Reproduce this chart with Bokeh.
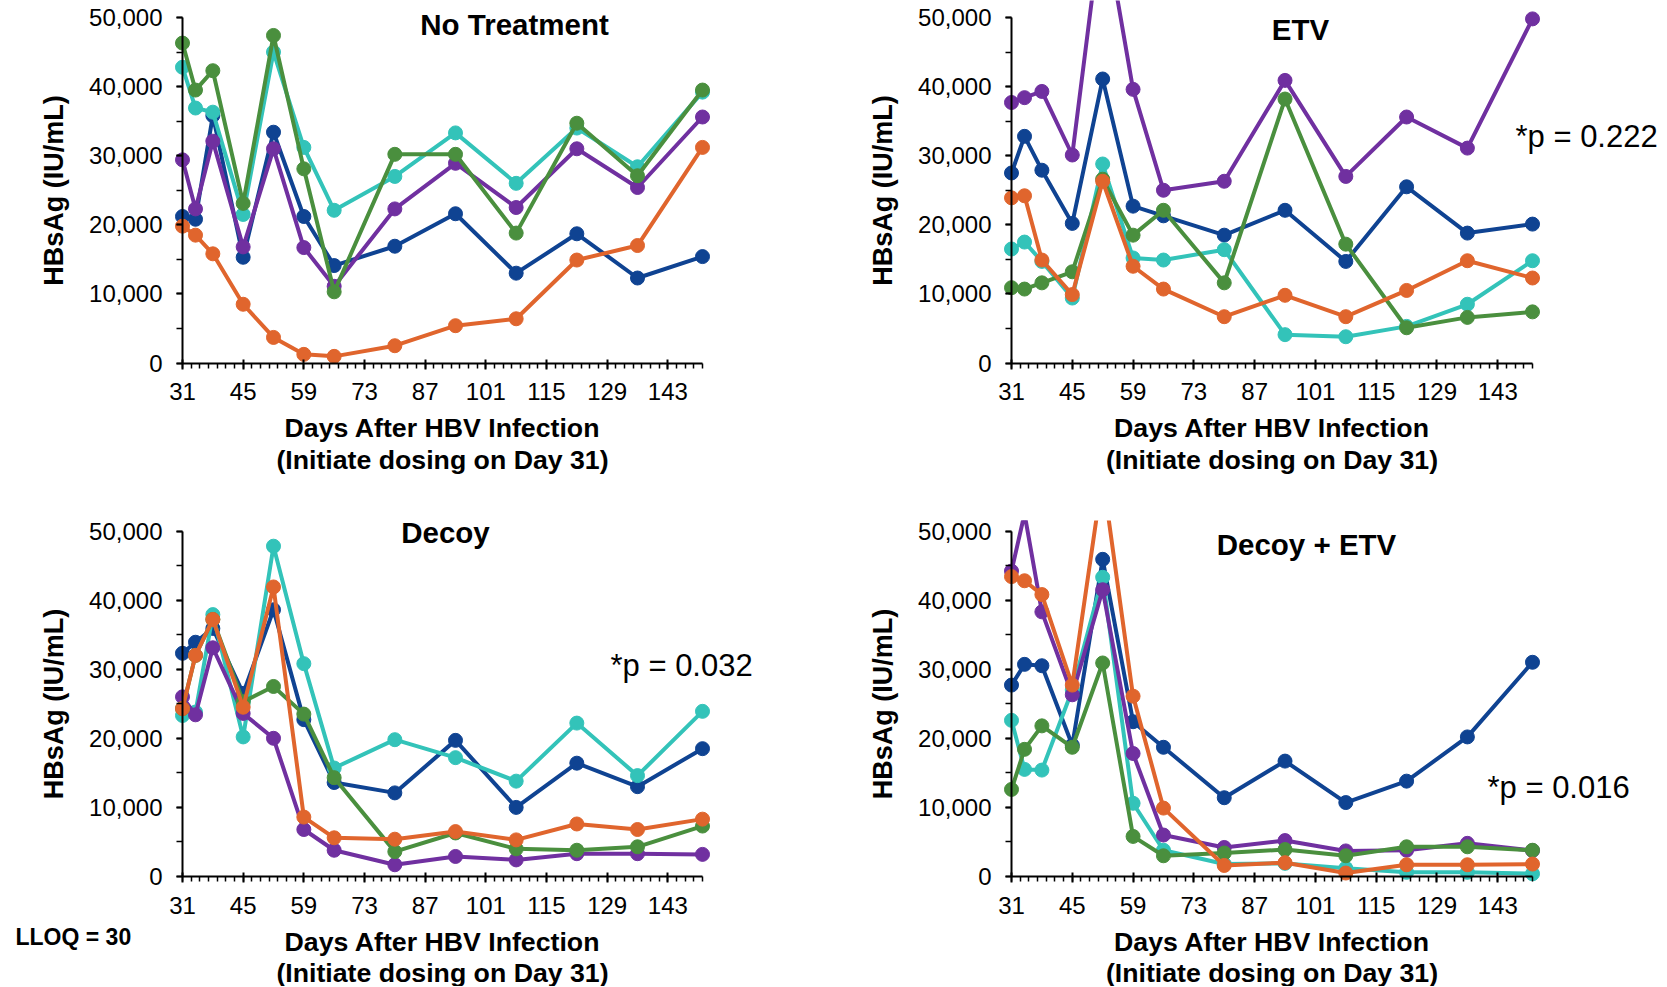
from bokeh.plotting import figure
from bokeh.models import Label, FixedTicker, NumeralTickFormatter, Range1d
from bokeh.layouts import column, row
from bokeh.embed import file_html
from bokeh.resources import INLINE

# ---------------- data ----------------
days = [31, 34, 38, 45, 52, 59, 66, 80, 94, 108, 122, 136, 151]
x_tick_days = [31, 45, 59, 73, 87, 101, 115, 129, 143]
x_minor_days = list(range(31, 152, 2))
y_ticks = [0, 10000, 20000, 30000, 40000, 50000]
y_minor_ticks = list(range(0, 50001, 5000))

series_colors = ["#0F4392", "#33C3B9", "#7030A0", "#4A8F3E", "#E0652D"]  # blue, cyan, purple, green, orange

# No Treatment
nt_blue = [21200, 20800, 35800, 15300, 33400, 21200, 14100, 16900, 21600, 13000, 18700, 12300, 15400]
nt_cyan = [42800, 36900, 36300, 21500, 45000, 31200, 22100, 27000, 33300, 26000, 34000, 28400, 39200]
nt_purple = [29400, 22300, 32100, 16800, 31000, 16700, 11100, 22300, 28900, 22500, 31000, 25400, 35600]
nt_green = [46300, 39500, 42300, 23100, 47400, 28100, 10300, 30200, 30200, 18800, 34700, 27100, 39500]
nt_orange = [19800, 18500, 15800, 8500, 3700, 1250, 960, 2500, 5400, 6400, 14900, 17000, 31200]

# ETV
etv_blue = [27500, 32800, 27900, 20200, 41100, 22700, 21300, 18500, 22100, 14700, 25500, 18800, 20100]
etv_cyan = [16500, 17500, 14700, 9400, 28800, 15200, 14900, 16400, 4100, 3800, 5300, 8500, 14800]
etv_purple = [37700, 38400, 39300, 30100, 65000, 39600, 25000, 26300, 40900, 27000, 35600, 31100, 49800]
etv_green = [10900, 10700, 11600, 13200, 26600, 18500, 22100, 11600, 38200, 17200, 5100, 6600, 7400]
etv_orange = [23900, 24200, 14900, 9900, 26300, 14000, 10700, 6700, 9800, 6700, 10500, 14800, 12300]

# Decoy
dc_blue = [32300, 33900, 35900, 26500, 38600, 22700, 13600, 12100, 19700, 10000, 16400, 13000, 18500]
dc_cyan = [23300, 23800, 37900, 20200, 47800, 30800, 15700, 19800, 17200, 13800, 22200, 14600, 23900]
dc_purple = [26000, 23400, 33100, 23600, 20000, 6800, 3800, 1700, 2900, 2400, 3300, 3300, 3200]
dc_green = [24300, 32000, 37200, 25300, 27500, 23500, 14300, 3600, 6300, 4000, 3800, 4300, 7300]
dc_orange = [24300, 32000, 37200, 24500, 41900, 8600, 5600, 5400, 6500, 5300, 7600, 6800, 8300]

# Decoy + ETV
de_blue = [27700, 30700, 30500, 19000, 45900, 22400, 18700, 11400, 16700, 10700, 13800, 20200, 31000]
de_cyan = [22600, 15500, 15400, 27000, 43300, 10600, 3800, 1800, 1900, 1200, 600, 600, 400]
de_purple = [44200, 52500, 38300, 26300, 41500, 17800, 6000, 4200, 5200, 3700, 3800, 4800, 3750]
de_green = [12600, 18400, 21800, 18700, 30900, 5800, 3000, 3400, 3900, 3000, 4300, 4300, 3800]
de_orange = [43400, 42800, 40800, 27700, 58000, 26100, 9900, 1600, 2000, 500, 1700, 1700, 1800]

panel_titles = ["No Treatment", "ETV", "Decoy", "Decoy + ETV"]
p_texts = ["", "*p = 0.222", "*p = 0.032", "*p = 0.016"]
x_title_lines = ["Days After HBV Infection", "(Initiate dosing on Day 31)"]
y_title = "HBsAg (IU/mL)"
lloq_text = "LLOQ = 30"

FONT = "Liberation Sans"


def make_panel(title, series, W, H, ax_px, ay_px, title_px, p_px=None, p_text="",
               xt_py=(427, 459), extra_px=None, top_border=0):
    """ax_px: (pixel of day 31, pixel of day 151); ay_px: (pixel of 50,000, pixel of 0),
    both measured from the figure's top-left corner."""
    bt = top_border
    Hf = H - bt
    sx = (ax_px[1] - ax_px[0]) / 120.0
    x0 = 31 - ax_px[0] / sx
    x1 = x0 + W / sx
    sy = (ay_px[1] - ay_px[0]) / 50000.0
    y1 = 50000 + (ay_px[0] - bt) / sy
    y0 = y1 - Hf / sy

    def X(px):
        return x0 + px / sx

    def Y(py):
        return y1 - (py - bt) / sy

    p = figure(width=W, height=H, output_backend="svg", toolbar_location=None,
               x_range=Range1d(x0, x1), y_range=Range1d(y0, y1),
               min_border=0, min_border_left=0, min_border_right=0,
               min_border_top=bt, min_border_bottom=0)
    p.outline_line_color = None
    p.grid.visible = False
    p.background_fill_color = "white"
    p.border_fill_color = "white"

    for ax in (p.xaxis[0], p.yaxis[0]):
        ax.axis_line_color = "black"
        ax.axis_line_width = 2
        ax.major_tick_line_color = "black"
        ax.major_tick_line_width = 2
        ax.minor_tick_line_color = "black"
        ax.minor_tick_line_width = 1.5
        ax.major_label_text_font = FONT
        ax.major_label_text_font_size = "24px"
        ax.major_label_text_color = "black"
    xa = p.xaxis[0]
    xa.fixed_location = 0
    xa.bounds = (31, 151)
    xa.ticker = FixedTicker(ticks=x_tick_days, minor_ticks=x_minor_days)
    xa.major_tick_in = 4
    xa.major_tick_out = 6
    xa.minor_tick_in = 0
    xa.minor_tick_out = 5
    xa.major_label_standoff = 14
    ya = p.yaxis[0]
    ya.fixed_location = 31
    ya.bounds = (0, 50000)
    ya.ticker = FixedTicker(ticks=y_ticks, minor_ticks=y_minor_ticks)
    ya.formatter = NumeralTickFormatter(format="0,0")
    ya.major_tick_in = 0
    ya.major_tick_out = 6
    ya.minor_tick_in = 0
    ya.minor_tick_out = 6
    ya.major_label_standoff = 14
    ya.axis_label = y_title
    ya.axis_label_text_font = FONT
    ya.axis_label_text_font_style = "bold"
    ya.axis_label_text_font_size = "27px"
    ya.axis_label_text_color = "black"
    ya.axis_label_standoff = 17

    for vals, col in zip(series, series_colors):
        p.line(days, vals, line_color=col, line_width=4)
        p.scatter(days, vals, size=14, fill_color=col, line_color=col, line_width=1)

    tx, ty = title_px
    p.add_layout(Label(x=X(tx), y=Y(ty), text=title, text_font=FONT,
                       text_font_style="bold", text_font_size="29.5px", text_align="center",
                       text_baseline="middle", text_color="black"))
    if p_px is not None:
        p.add_layout(Label(x=X(p_px[0]), y=Y(p_px[1]), text=p_text,
                           text_font=FONT, text_font_size="31px", text_align="left",
                           text_baseline="middle", text_color="black"))
    for line_txt, py in zip(x_title_lines, xt_py):
        p.add_layout(Label(x=91, y=Y(py), text=line_txt, text_font=FONT,
                           text_font_style="bold", text_font_size="26.7px", text_align="center",
                           text_baseline="middle", text_color="black"))
    if extra_px is not None:
        p.add_layout(Label(x=X(extra_px[0]), y=Y(extra_px[1]), text=extra_px[2], text_font=FONT,
                           text_font_style="bold", text_font_size="23px", text_align="left",
                           text_baseline="middle", text_color="black"))
    return p


p1 = make_panel(panel_titles[0], [nt_blue, nt_cyan, nt_purple, nt_green, nt_orange],
                833, 488, (182, 702), (17, 362.5), (514, 23.5))
p2 = make_panel(panel_titles[1], [etv_blue, etv_cyan, etv_purple, etv_green, etv_orange],
                832, 488, (178, 699), (17, 362.5), (467, 28.5),
                p_px=(682, 135.5), p_text=p_texts[1])
p3 = make_panel(panel_titles[2], [dc_blue, dc_cyan, dc_purple, dc_green, dc_orange],
                833, 498, (182, 702), (42.5, 388), (445, 43.5),
                p_px=(610, 177), p_text=p_texts[2], xt_py=(453.5, 484),
                extra_px=(15, 448.6, lloq_text), top_border=32)
p4 = make_panel(panel_titles[3], [de_blue, de_cyan, de_purple, de_green, de_orange],
                832, 498, (178, 699), (42.5, 388), (473, 55.5),
                p_px=(654, 299), p_text=p_texts[3], xt_py=(453.5, 484),
                top_border=32)

layout = column(row(p1, p2), row(p3, p4))
open("out.html", "w").write(file_html(layout, INLINE))
